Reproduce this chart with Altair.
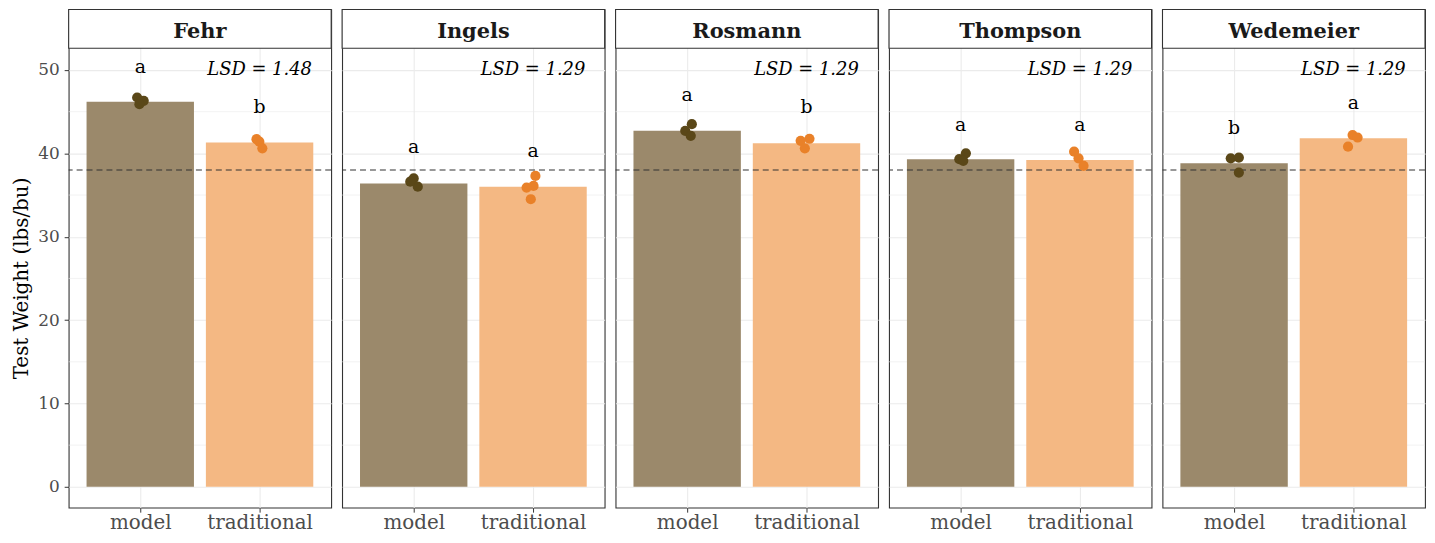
import altair as alt
import pandas as pd

# ---------------- data ----------------
SITES = ["Fehr", "Ingels", "Rosmann", "Thompson", "Wedemeier"]
GROUPS = ["model", "traditional"]

MEAN_MODEL = [46.2, 36.4, 42.7, 39.3, 38.8]
MEAN_TRAD = [41.3, 36.0, 41.2, 39.2, 41.8]

LETTER_MODEL = ["a", "a", "a", "a", "b"]
LETTER_TRAD = ["b", "a", "b", "a", "a"]
LETTER_Y_MODEL = [49.7, 40.0, 46.3, 42.7, 42.3]
LETTER_Y_TRAD = [44.9, 39.6, 44.8, 42.7, 45.3]

LSD = ["1.48", "1.29", "1.29", "1.29", "1.29"]
REF_LINE = 38

PT_SITE = ["Fehr"] * 6 + ["Ingels"] * 7 + ["Rosmann"] * 6 + ["Thompson"] * 6 + ["Wedemeier"] * 6
PT_GROUP = (["model"] * 3 + ["traditional"] * 3
            + ["model"] * 3 + ["traditional"] * 4
            + ["model"] * 3 + ["traditional"] * 3
            + ["model"] * 3 + ["traditional"] * 3
            + ["model"] * 3 + ["traditional"] * 3)
PT_VALUE = [46.7, 46.3, 45.9, 41.7, 41.4, 40.6,
            37.0, 36.0, 36.6, 37.3, 36.1, 35.9, 34.5,
            43.5, 42.7, 42.1, 41.75, 41.5, 40.6,
            40.0, 39.3, 39.1, 40.2, 39.4, 38.5,
            39.4, 39.5, 37.7, 42.2, 41.9, 40.8]
PT_JITTER = [-0.026, 0.029, -0.007, -0.026, -0.002, 0.023,
             0.0, 0.034, -0.029, 0.020, 0.004, -0.054, -0.019,
             0.039, -0.016, 0.030, 0.025, -0.049, -0.014,
             0.044, -0.011, 0.022, -0.049, -0.012, 0.030,
             -0.028, 0.040, 0.040, -0.007, 0.035, -0.045]

Y_TICKS = [0, 10, 20, 30, 40, 50]
Y_MINOR = [5, 15, 25, 35, 45]

# ---------------- build table ----------------
rows = []
for i, s in enumerate(SITES):
    for g, m, lt, ly in ((GROUPS[0], MEAN_MODEL[i], LETTER_MODEL[i], LETTER_Y_MODEL[i]),
                         (GROUPS[1], MEAN_TRAD[i], LETTER_TRAD[i], LETTER_Y_TRAD[i])):
        rows.append(dict(site=s, kind="bar", group=g, pos=GROUPS.index(g) + 1,
                         value=m, jitter=0.0, letter=lt, letter_y=ly, lsd=""))
    rows.append(dict(site=s, kind="site", group="", pos=0, value=0.0, jitter=0.0,
                     letter="", letter_y=0.0, lsd="LSD = " + LSD[i]))
    for mv in Y_MINOR:
        rows.append(dict(site=s, kind="minor", group="", pos=0, value=float(mv), jitter=0.0,
                         letter="", letter_y=0.0, lsd=""))
for s, g, v, j in zip(PT_SITE, PT_GROUP, PT_VALUE, PT_JITTER):
    rows.append(dict(site=s, kind="pt", group=g, pos=GROUPS.index(g) + 1,
                     value=v, jitter=j, letter="", letter_y=0.0, lsd=""))
df = pd.DataFrame(rows)

FONT = "DejaVu Serif"
W, H = 264, 501
STRIP = 39
BAR_HALF = 0.45

label_expr = "datum.value == 1 ? '%s' : '%s'" % (GROUPS[0], GROUPS[1])

xscale = alt.Scale(domain=[0.4, 2.6], nice=False, zero=False)
yscale = alt.Scale(domain=[-2.5, 57.26], nice=False, zero=False)

xaxis = alt.Axis(values=[1, 2], labelExpr=label_expr, title=None, grid=True,
                 gridColor="#ebebeb", gridWidth=1.1, domain=False, tickColor="#333333",
                 tickSize=4.5, labelFont=FONT, labelFontSize=20, labelColor="#4d4d4d",
                 labelPadding=0.5)


def y_axis(first):
    if first:
        return alt.Axis(values=Y_TICKS, title="Test Weight (lbs/bu)", grid=True,
                        gridColor="#ebebeb", gridWidth=1.1, domain=False, tickColor="#333333",
                        tickSize=4.5, labelFont=FONT, labelFontSize=17, labelColor="#4d4d4d",
                        labelPadding=5, titleFont=FONT, titleFontSize=20,
                        titleFontWeight="normal", titleColor="black", titlePadding=6,
                        titleY=270)
    return alt.Axis(values=Y_TICKS, title=None, grid=True, gridColor="#ebebeb", gridWidth=1.1,
                    domain=False, ticks=False, labels=False)


is_model = alt.datum.group == GROUPS[0]


def panel(site, first):
    yaxis = y_axis(first)
    base = alt.Chart(df).transform_filter(alt.datum.site == site)

    minor = base.mark_rule(color="#ebebeb", strokeWidth=0.6).encode(
        y=alt.Y("value:Q", scale=yscale, axis=yaxis),
    ).transform_filter(alt.datum.kind == "minor")

    bars = base.mark_bar().encode(
        x=alt.X("x0:Q", scale=xscale, axis=xaxis),
        x2="x1:Q",
        y=alt.Y("value:Q", scale=yscale, axis=yaxis),
        y2=alt.datum(0),
        color=alt.condition(is_model, alt.value("#9b896b"), alt.value("#f4b883")),
    ).transform_filter(alt.datum.kind == "bar").transform_calculate(
        x0="datum.pos - %f" % BAR_HALF, x1="datum.pos + %f" % BAR_HALF
    )

    hline = base.mark_rule(color="#333333", strokeWidth=1.1, strokeDash=[6, 4]).encode(
        y=alt.datum(REF_LINE)
    ).transform_filter(alt.datum.kind == "site")

    points = base.mark_circle(size=105, opacity=1).encode(
        x=alt.X("px:Q", scale=xscale, axis=xaxis),
        y=alt.Y("value:Q", scale=yscale, axis=yaxis),
        color=alt.condition(is_model, alt.value("#5a4718"), alt.value("#e98129")),
    ).transform_filter(alt.datum.kind == "pt").transform_calculate(
        px="datum.pos + datum.jitter"
    )

    letters = base.mark_text(font=FONT, fontSize=19, color="black",
                             baseline="alphabetic").encode(
        x=alt.X("pos:Q", scale=xscale, axis=xaxis),
        y=alt.Y("letter_y:Q", scale=yscale, axis=yaxis),
        text="letter:N",
    ).transform_filter(alt.datum.kind == "bar")

    lsd = base.mark_text(font=FONT, fontSize=18, fontStyle="italic", color="black",
                         baseline="middle").encode(
        x=alt.datum(2, scale=xscale),
        y=alt.datum(50, scale=yscale),
        text="lsd:N",
    ).transform_filter(alt.datum.kind == "site")

    strip_bg = base.mark_rect(fill="white", stroke="#333333", strokeWidth=1.1).encode(
        x=alt.value(0), x2=alt.value(W), y=alt.value(0), y2=alt.value(STRIP)
    ).transform_filter(alt.datum.kind == "site")

    strip_text = base.mark_text(font=FONT, fontSize=21, fontWeight="bold", color="#1a1a1a",
                                baseline="alphabetic").encode(
        x=alt.value(W / 2), y=alt.value(28.5), text="site:N"
    ).transform_filter(alt.datum.kind == "site")

    return alt.layer(minor, bars, hline, points, letters, lsd, strip_bg, strip_text).properties(
        width=W, height=H)


chart = alt.hconcat(*[panel(s, i == 0) for i, s in enumerate(SITES)], spacing=7).properties(
    padding={"left": 3, "top": -2, "right": 0, "bottom": 1}
).configure_view(
    stroke="#333333", strokeWidth=1.1
)

chart.save("out.html", embed_options={"renderer": "svg", "actions": False})
